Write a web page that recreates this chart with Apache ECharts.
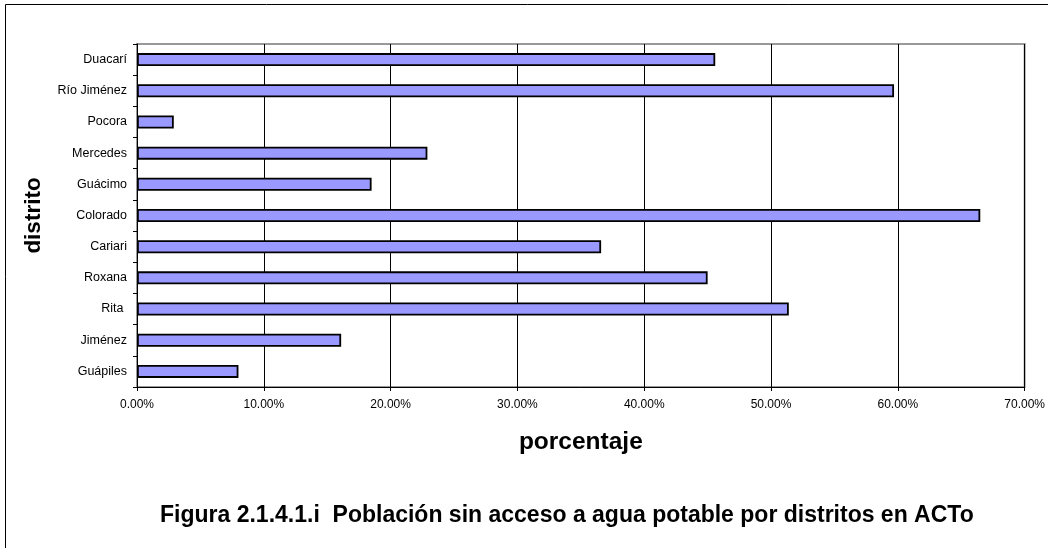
<!DOCTYPE html>
<html>
<head>
<meta charset="utf-8">
<script src="https://cdn.jsdelivr.net/npm/echarts@6/dist/echarts.min.js"></script>
<style>
  html, body { margin: 0; padding: 0; background: #fff; }
  #chart { width: 1048px; height: 548px; }
</style>
</head>
<body>
<div id="chart"></div>
<script>
// districts, top to bottom
const distritos = ["Duacarí", "Río Jiménez", "Pocora", "Mercedes", "Guácimo", "Colorado", "Cariari", "Roxana", "Rita ", "Jiménez", "Guápiles"];
// % population without drinking water
const porcentajes = [45.6, 59.7, 2.9, 22.9, 18.5, 66.5, 36.6, 45.0, 51.4, 16.1, 8.0];
const xTicks = [0, 10, 20, 30, 40, 50, 60, 70];

const font = "'Liberation Sans', Arial, sans-serif";
const chart = echarts.init(document.getElementById("chart"));

const option = {
  animation: false,
  backgroundColor: "#fff",
  title: {
    text: "Figura 2.1.4.1.i  Población sin acceso a agua potable por distritos en ACTo",
    left: 155,
    top: 499,
    textStyle: { fontFamily: font, fontSize: 23, fontWeight: "bold", color: "#000" },
  },
  graphic: [
    {
      type: "rect",
      shape: { x: 5.5, y: 4.5, width: 1100, height: 600 },
      style: { fill: "none", stroke: "#000", lineWidth: 1 },
      silent: true,
    },
  ],
  grid: {
    left: 137,
    right: 22,
    top: 44,
    bottom: 161,
    show: true,
    borderColor: "#999",
    borderWidth: 2,
    containLabel: false,
  },
  xAxis: {
    type: "value",
    min: xTicks[0],
    max: xTicks[xTicks.length - 1],
    interval: 10,
    name: "porcentaje",
    nameLocation: "middle",
    nameGap: 43,
    nameTextStyle: { fontFamily: font, fontSize: 24.5, fontWeight: "bold", color: "#000" },
    axisLine: { show: true, lineStyle: { color: "#000", width: 1 } },
    axisTick: { show: true, length: 4, lineStyle: { color: "#000" } },
    axisLabel: {
      margin: 12,
      fontFamily: font,
      fontSize: 12,
      color: "#000",
      formatter: (v) => v.toFixed(2) + "%",
    },
    splitLine: { show: true, lineStyle: { color: "#000", width: 1 } },
  },
  yAxis: {
    type: "category",
    inverse: true,
    data: distritos,
    name: "distrito",
    nameLocation: "middle",
    nameGap: 92,
    nameTextStyle: { fontFamily: font, fontSize: 22.5, fontWeight: "bold", color: "#000" },
    axisLine: { show: true, lineStyle: { color: "#000", width: 1 } },
    axisTick: { show: true, length: 4, inside: false, lineStyle: { color: "#000" } },
    axisLabel: { margin: 10, fontFamily: font, fontSize: 12.5, color: "#000" },
    splitLine: { show: false },
  },
  series: [
    {
      type: "bar",
      data: porcentajes,
      barWidth: 13,
      itemStyle: { color: "#9999FF", borderColor: "#000", borderWidth: 1.8 },
    },
  ],
};

chart.setOption(option);
</script>
</body>
</html>
